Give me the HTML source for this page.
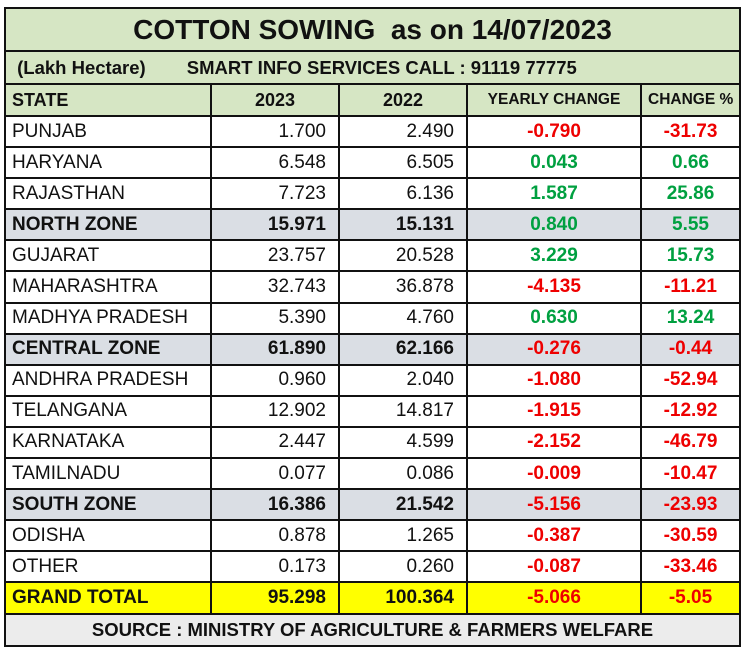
<!DOCTYPE html>
<html><head><meta charset="utf-8"><style>
body{margin:0;width:744px;height:653px;background:#fff;overflow:hidden;font-family:"Liberation Sans",sans-serif}
table{position:absolute;left:4px;top:7px;border-collapse:collapse;width:735px;table-layout:fixed}
tr{height:31.1px}
td{border:2px solid #111;padding:0 6px;font-size:19px;white-space:nowrap;overflow:hidden;line-height:20px;color:#111}
tr.t{height:43px} tr.s{height:33px} tr.h{height:32px} tr.f{height:32px}
.t td{background:#d6e6c4;font-size:28px;font-weight:bold;text-align:center}
.s td{background:#d6e6c4;font-size:18.5px;font-weight:bold}
.h td{background:#d6e6c4;font-weight:bold;font-size:18px}
.r{text-align:right;padding-right:12px}
.c{text-align:center}
td.g{color:#00a040;font-weight:bold}td.d{color:#ee0000;font-weight:bold}
.z td{background:#dadee4;font-weight:bold}
.y td{background:#ffff00;font-weight:bold}
.f td{background:#ececec;font-weight:bold;text-align:center;font-size:18.5px}
</style></head><body>
<table>
<colgroup><col style="width:206px"><col style="width:128px"><col style="width:128px"><col style="width:174px"><col style="width:99px"></colgroup>
<tr class="t"><td colspan="5">COTTON SOWING &nbsp;as on 14/07/2023</td></tr>
<tr class="s"><td colspan="5">&nbsp;(Lakh Hectare) &nbsp;&nbsp;&nbsp;&nbsp;&nbsp;&nbsp;&nbsp;SMART INFO SERVICES CALL : 91119 77775</td></tr>
<tr class="h"><td>STATE</td><td class="c">2023</td><td class="c">2022</td><td class="c" style="font-size:15.5px">YEARLY CHANGE</td><td class="c" style="font-size:15.5px">CHANGE %</td></tr>
<tr><td>PUNJAB</td><td class="r">1.700</td><td class="r">2.490</td><td class="c d">-0.790</td><td class="c d">-31.73</td></tr>
<tr><td>HARYANA</td><td class="r">6.548</td><td class="r">6.505</td><td class="c g">0.043</td><td class="c g">0.66</td></tr>
<tr><td>RAJASTHAN</td><td class="r">7.723</td><td class="r">6.136</td><td class="c g">1.587</td><td class="c g">25.86</td></tr>
<tr class="z"><td>NORTH ZONE</td><td class="r">15.971</td><td class="r">15.131</td><td class="c g">0.840</td><td class="c g">5.55</td></tr>
<tr><td>GUJARAT</td><td class="r">23.757</td><td class="r">20.528</td><td class="c g">3.229</td><td class="c g">15.73</td></tr>
<tr><td>MAHARASHTRA</td><td class="r">32.743</td><td class="r">36.878</td><td class="c d">-4.135</td><td class="c d">-11.21</td></tr>
<tr><td>MADHYA PRADESH</td><td class="r">5.390</td><td class="r">4.760</td><td class="c g">0.630</td><td class="c g">13.24</td></tr>
<tr class="z"><td>CENTRAL ZONE</td><td class="r">61.890</td><td class="r">62.166</td><td class="c d">-0.276</td><td class="c d">-0.44</td></tr>
<tr><td>ANDHRA PRADESH</td><td class="r">0.960</td><td class="r">2.040</td><td class="c d">-1.080</td><td class="c d">-52.94</td></tr>
<tr><td>TELANGANA</td><td class="r">12.902</td><td class="r">14.817</td><td class="c d">-1.915</td><td class="c d">-12.92</td></tr>
<tr><td>KARNATAKA</td><td class="r">2.447</td><td class="r">4.599</td><td class="c d">-2.152</td><td class="c d">-46.79</td></tr>
<tr><td>TAMILNADU</td><td class="r">0.077</td><td class="r">0.086</td><td class="c d">-0.009</td><td class="c d">-10.47</td></tr>
<tr class="z"><td>SOUTH ZONE</td><td class="r">16.386</td><td class="r">21.542</td><td class="c d">-5.156</td><td class="c d">-23.93</td></tr>
<tr><td>ODISHA</td><td class="r">0.878</td><td class="r">1.265</td><td class="c d">-0.387</td><td class="c d">-30.59</td></tr>
<tr><td>OTHER</td><td class="r">0.173</td><td class="r">0.260</td><td class="c d">-0.087</td><td class="c d">-33.46</td></tr>
<tr class="y"><td>GRAND TOTAL</td><td class="r">95.298</td><td class="r">100.364</td><td class="c d">-5.066</td><td class="c d">-5.05</td></tr>
<tr class="f"><td colspan="5">SOURCE : MINISTRY OF AGRICULTURE &amp; FARMERS WELFARE</td></tr>
</table>
</body></html>
